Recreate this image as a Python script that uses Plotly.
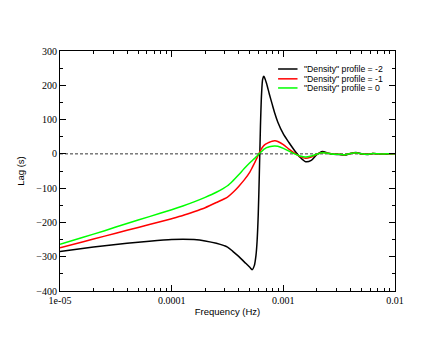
import plotly.graph_objects as go

frequency = [1.000e-5, 1.585e-5, 2.512e-5, 3.981e-5, 6.310e-5, 1.000e-4, 1.259e-4, 1.585e-4,
             1.995e-4, 2.512e-4, 3.162e-4, 3.548e-4, 3.981e-4, 4.467e-4, 5.012e-4, 5.248e-4,
             5.495e-4, 5.689e-4, 5.821e-4, 5.957e-4, 6.095e-4, 6.237e-4, 6.383e-4, 6.531e-4,
             6.683e-4, 6.839e-4, 7.079e-4, 7.499e-4, 7.943e-4, 8.414e-4, 8.913e-4, 1.000e-3,
             1.122e-3, 1.259e-3, 1.413e-3, 1.585e-3, 1.778e-3, 1.995e-3, 2.239e-3, 2.512e-3,
             2.818e-3, 3.162e-3, 3.548e-3, 3.981e-3, 4.467e-3, 5.012e-3, 5.623e-3, 6.310e-3,
             7.079e-3, 7.943e-3, 8.913e-3, 1.000e-2]

lag_profile_m2 = [-285, -276, -268, -261, -255, -250, -249, -250,
                  -254, -261, -272, -285, -299, -315, -331, -338,
                  -326, -296, -255, -180, -60, 80, 175, 218,
                  226, 220, 205, 174, 145, 117, 93, 58,
                  33, 10, -10, -23, -19, -2, 7, 2,
                  -1, -2, -4, 1, 4, 0, -2, 1,
                  0, -1, 0.5, 0]

lag_profile_m1 = [-274, -257, -240, -223, -206, -189, -180, -169,
                  -157, -142, -126, -112, -95, -76, -53, -41,
                  -28, -18, -11, -4, 3, 9, 15, 20,
                  24, 27, 30, 34, 37, 38, 36, 27,
                  14, 2, -8, -13, -9, -1, 4, 2,
                  -1, -1.5, -3, 1, 3, 0, -1.5, 1,
                  0, -0.5, 0.5, 0]

lag_profile_0 = [-264, -244, -224, -203, -183, -163, -152, -140,
                 -127, -112, -93, -78, -61, -43, -26, -20,
                 -14, -9, -6, -2, 1, 4, 7, 10,
                 13, 15, 18, 21, 22.5, 23, 22, 16,
                 8, 0, -6, -9, -6, -1, 3, 2,
                 -1, -1, -3, 1, 3, 0, -1.5, 1,
                 0, -0.5, 0.5, 0]

series_names = ['"Density" profile = -2', '"Density" profile = -1', '"Density" profile = 0']
series_colors = ["#000000", "#ff0000", "#00ff00"]
series_values = [lag_profile_m2, lag_profile_m1, lag_profile_0]

x_tickvals = [1e-5, 1e-4, 1e-3, 1e-2]
x_ticktext = ["1e-05", "0.0001", "0.001", "0.01"]
x_minor = [m * d for d in (1e-5, 1e-4, 1e-3) for m in range(2, 10)]

fig = go.Figure()
for name, color, vals in zip(series_names, series_colors, series_values):
    fig.add_trace(go.Scatter(x=frequency, y=vals, mode="lines", name=name,
                             line=dict(color=color, width=1.5, shape="spline", smoothing=0.7),
                             showlegend=False))

# zero reference line
fig.add_shape(type="line", xref="paper", x0=0, x1=1, yref="y", y0=0, y1=0,
              line=dict(color="black", width=0.8, dash="3px,2px"), layer="below")

# manual legend
leg_y = [0.925, 0.884, 0.846]
for name, color, yy in zip(series_names, series_colors, leg_y):
    fig.add_shape(type="line", xref="paper", yref="paper", x0=0.651, x1=0.709, y0=yy, y1=yy,
                  line=dict(color=color, width=1.5))
    fig.add_annotation(xref="paper", yref="paper", x=0.722, y=yy, text=name, showarrow=False,
                       xanchor="left", yanchor="middle",
                       font=dict(family="Liberation Sans", size=8.7, color="black"))

tickfont = dict(family="Liberation Serif", size=10, color="black")
titlefont = dict(family="Liberation Sans", size=9.5, color="black")

fig.update_xaxes(type="log", range=[-5, -2], showline=True, linecolor="black", linewidth=1,
                 mirror="ticks", ticks="inside", ticklen=6, tickwidth=1, tickcolor="black",
                 tickmode="array", tickvals=x_tickvals, ticktext=x_ticktext, tickfont=tickfont,
                 showgrid=False, zeroline=False,
                 minor=dict(ticks="inside", ticklen=3, tickwidth=1, tickcolor="black",
                            tickmode="array", tickvals=x_minor, showgrid=False),
                 title=dict(text="Frequency (Hz)", font=titlefont, standoff=3))
fig.update_yaxes(range=[-400, 300], showline=True, linecolor="black", linewidth=1,
                 mirror="ticks", ticks="inside", ticklen=6, tickwidth=1, tickcolor="black",
                 tickmode="linear", tick0=0, dtick=100, tickfont=tickfont,
                 showgrid=False, zeroline=False,
                 minor=dict(ticks="inside", ticklen=3, tickwidth=1, tickcolor="black",
                            dtick=50, showgrid=False),
                 title=dict(text="Lag (s)", font=titlefont, standoff=10))

# page body has an 8px margin, so the figure is offset by 8px; compensate in size/margins
fig.update_layout(width=436, height=335, margin=dict(l=43, r=49, t=43, b=52, pad=0),
                  paper_bgcolor="white", plot_bgcolor="white", showlegend=False)

fig.write_html("out.html")
